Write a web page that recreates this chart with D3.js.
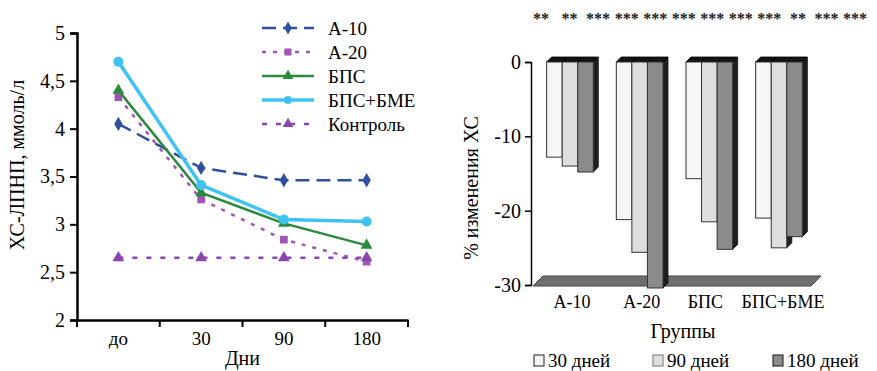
<!DOCTYPE html>
<html>
<head>
<meta charset="utf-8">
<script src="https://cdn.jsdelivr.net/npm/d3@7"></script>
<style>
  body { margin: 0; background: #fff; }
  svg text { font-family: "Liberation Serif", "Times New Roman", Times, "DejaVu Serif", serif !important; }
</style>
</head>
<body>
<svg id="chart" width="877" height="371"></svg>
<script>
// ---- left chart data
const days = ['до', '30', '90', '180'];
const yTicksLeft = [2, 2.5, 3, 3.5, 4, 4.5, 5];
const a10 = [4.05, 3.59, 3.46, 3.46];
const a20 = [4.33, 3.26, 2.84, 2.61];
const bps = [4.40, 3.33, 3.01, 2.78];
const bpsBme = [4.70, 3.41, 3.05, 3.03];
const control = [2.65, 2.65, 2.65, 2.65];

// ---- right chart data
const groups = ['А-10', 'А-20', 'БПС', 'БПС+БМЕ'];
const periods = ['30 дней', '90 дней', '180 дней'];
const yTicksRight = [0, -10, -20, -30];
const change30 = [-12.8, -21.2, -15.7, -21.0];
const change90 = [-14.0, -25.6, -21.5, -25.0];
const change180 = [-14.8, -30.4, -25.2, -23.5];
const stars = ['**', '**', '***', '***', '***', '***', '***', '***', '***', '**', '***', '***'];

const svg = d3.select('#chart');
const fmt = d => String(d).replace('.', ',');

// =============== left: line chart
const xL = d3.scaleBand().domain(days).range([77, 408]);
const yL = d3.scaleLinear().domain([2, 5]).range([320, 33]);

const left = svg.append('g');

left.append('g')
  .attr('transform', 'translate(77,0)')
  .call(d3.axisLeft(yL).tickValues(yTicksLeft).tickFormat(fmt).tickSize(7).tickPadding(5))
  .call(g => g.select('.domain').attr('stroke-width', 2.5))
  .call(g => g.selectAll('.tick line').attr('stroke-width', 2))
  .call(g => g.selectAll('text').attr('font-size', 20));

const xAxisL = left.append('g')
  .attr('transform', 'translate(0,320)')
  .call(d3.axisBottom(xL).tickSize(0).tickPadding(12).tickSizeOuter(0))
  .call(g => g.select('.domain').attr('stroke-width', 2.5))
  .call(g => g.selectAll('text').attr('font-size', 19));

// boundary ticks between categories
xAxisL.selectAll('.edge')
  .data(days.map(d => xL(d)).concat([xL.range()[1]]))
  .enter().append('line')
  .attr('x1', d => d).attr('x2', d => d)
  .attr('y1', 0).attr('y2', 7)
  .attr('stroke', '#000').attr('stroke-width', 2);

left.append('text')
  .attr('x', xL('90')).attr('y', 365)
  .attr('text-anchor', 'middle').attr('font-size', 20)
  .text('Дни');

left.append('text')
  .attr('transform', 'translate(24,165) rotate(-90)')
  .attr('text-anchor', 'middle').attr('font-size', 20)
  .text('ХС-ЛПНП, ммоль/л');

const seriesL = [
  { name: 'А-10', values: a10, color: '#2f4f9f', width: 2.5, dash: '14,7', marker: 'diamond' },
  { name: 'А-20', values: a20, color: '#a255b5', width: 2.5, dash: '4,7', marker: 'square' },
  { name: 'БПС', values: bps, color: '#2a8b3c', width: 2.5, dash: null, marker: 'triangle' },
  { name: 'БПС+БМЕ', values: bpsBme, color: '#3ec3f0', width: 3.5, dash: null, marker: 'circle' },
  { name: 'Контроль', values: control, color: '#8a45b0', width: 2.5, dash: '5,9', marker: 'triangle' }
];

const symbolType = {
  diamond: d3.symbolDiamond, square: d3.symbolSquare,
  triangle: d3.symbolTriangle, circle: d3.symbolCircle
};

const line = d3.line()
  .x((d, i) => xL(days[i]) + xL.bandwidth() / 2)
  .y(d => yL(d));

seriesL.forEach(s => {
  left.append('path')
    .datum(s.values)
    .attr('fill', 'none')
    .attr('stroke', s.color)
    .attr('stroke-width', s.width)
    .attr('stroke-dasharray', s.dash)
    .attr('d', line);
  left.selectAll(null)
    .data(s.values)
    .enter().append('path')
    .attr('transform', (d, i) => `translate(${xL(days[i]) + xL.bandwidth() / 2},${yL(d)})`)
    .attr('d', d3.symbol().type(symbolType[s.marker]).size(s.marker === 'circle' ? 80 : 60))
    .attr('fill', s.color);
});

// legend
const legL = left.append('g');
seriesL.forEach((s, i) => {
  const y = 28 + i * 24;
  legL.append('line')
    .attr('x1', 262).attr('x2', 314).attr('y1', y).attr('y2', y)
    .attr('stroke', s.color).attr('stroke-width', s.width)
    .attr('stroke-dasharray', s.dash);
  legL.append('path')
    .attr('transform', `translate(288,${y})`)
    .attr('d', d3.symbol().type(symbolType[s.marker]).size(50))
    .attr('fill', s.color);
  legL.append('text')
    .attr('x', 328).attr('y', y + 7)
    .attr('font-size', 19)
    .text(s.name);
});

// =============== right: 3D bar chart
const xR = d3.scaleBand().domain(groups).range([535, 814]).paddingInner(0.33).paddingOuter(0.167);
const xSub = d3.scaleBand().domain(periods).range([0, xR.bandwidth()]);
const yR = d3.scaleLinear().domain([0, -30]).range([62, 285]);

const right = svg.append('g');
const depth = 5;

// floor at -30
const fy = yR(-30);
right.append('path')
  .attr('d', `M533,${fy + 1}L543,${fy - 9}L821,${fy - 9}L811,${fy + 1}Z`)
  .attr('fill', '#6f6f6f').attr('stroke', '#444').attr('stroke-width', 1);

right.append('g')
  .attr('transform', 'translate(531,0)')
  .call(d3.axisLeft(yR).tickValues(yTicksRight).tickSize(6).tickPadding(4))
  .call(g => g.select('.domain').attr('stroke-width', 1.5))
  .call(g => g.selectAll('.tick line').attr('stroke-width', 1.5))
  .call(g => g.selectAll('text').attr('font-size', 20)
    .text(d => d < 0 ? '-' + Math.abs(d) : d));

const fronts = ['#f6f6f6', '#dedede', '#8b8b8b'];
const valuesR = [change30, change90, change180];

groups.forEach((g, gi) => {
  periods.forEach((p, pi) => {
    const v = valuesR[pi][gi];
    const x = xR(g) + xSub(p);
    const w = xSub.bandwidth();
    const y0 = yR(0), y1 = yR(v);
    const bar = right.append('g');
    // side face
    bar.append('path')
      .attr('d', `M${x + w},${y0}L${x + w + depth},${y0 - depth}L${x + w + depth},${y1 - depth}L${x + w},${y1}Z`)
      .attr('fill', '#1e1e1e').attr('stroke', '#111').attr('stroke-width', 0.8);
    // top face
    bar.append('path')
      .attr('d', `M${x},${y0}L${x + depth},${y0 - depth}L${x + w + depth},${y0 - depth}L${x + w},${y0}Z`)
      .attr('fill', '#141414').attr('stroke', '#000').attr('stroke-width', 0.8);
    // front
    bar.append('rect')
      .attr('x', x).attr('y', y0)
      .attr('width', w).attr('height', y1 - y0)
      .attr('fill', fronts[pi]).attr('stroke', '#333').attr('stroke-width', 1);
  });
});

right.append('g')
  .selectAll('text')
  .data(groups)
  .enter().append('text')
  .attr('x', (d, i) => xR(d) + xR.bandwidth() / 2 + (i === 2 ? -4 : i === 3 ? 4 : 2))
  .attr('y', 308)
  .attr('text-anchor', 'middle')
  .attr('font-size', 18)
  .text(d => d);

right.append('text')
  .attr('x', 683).attr('y', 338)
  .attr('text-anchor', 'middle').attr('font-size', 20)
  .text('Группы');

right.append('text')
  .attr('transform', 'translate(478,188) rotate(-90)')
  .attr('text-anchor', 'middle').attr('font-size', 20)
  .text('% изменения ХС');

// significance stars
const xStar = d3.scalePoint().domain(d3.range(stars.length)).range([541, 855]);
right.append('g')
  .selectAll('text')
  .data(stars)
  .enter().append('text')
  .attr('x', (d, i) => xStar(i))
  .attr('y', 24)
  .attr('text-anchor', 'middle')
  .attr('font-size', 16)
  .attr('font-weight', 'bold')
  .attr('fill', '#222')
  .text(d => d);

// legend bottom
const legX = [534, 653, 773];
const legStroke = ['#444', '#888', '#333'];
periods.forEach((p, i) => {
  right.append('rect')
    .attr('x', legX[i]).attr('y', 355)
    .attr('width', 10).attr('height', 11)
    .attr('fill', fronts[i]).attr('stroke', legStroke[i]).attr('stroke-width', 1.2);
  right.append('text')
    .attr('x', legX[i] + 14).attr('y', 367)
    .attr('font-size', 19)
    .text(p);
});
</script>
</body>
</html>
